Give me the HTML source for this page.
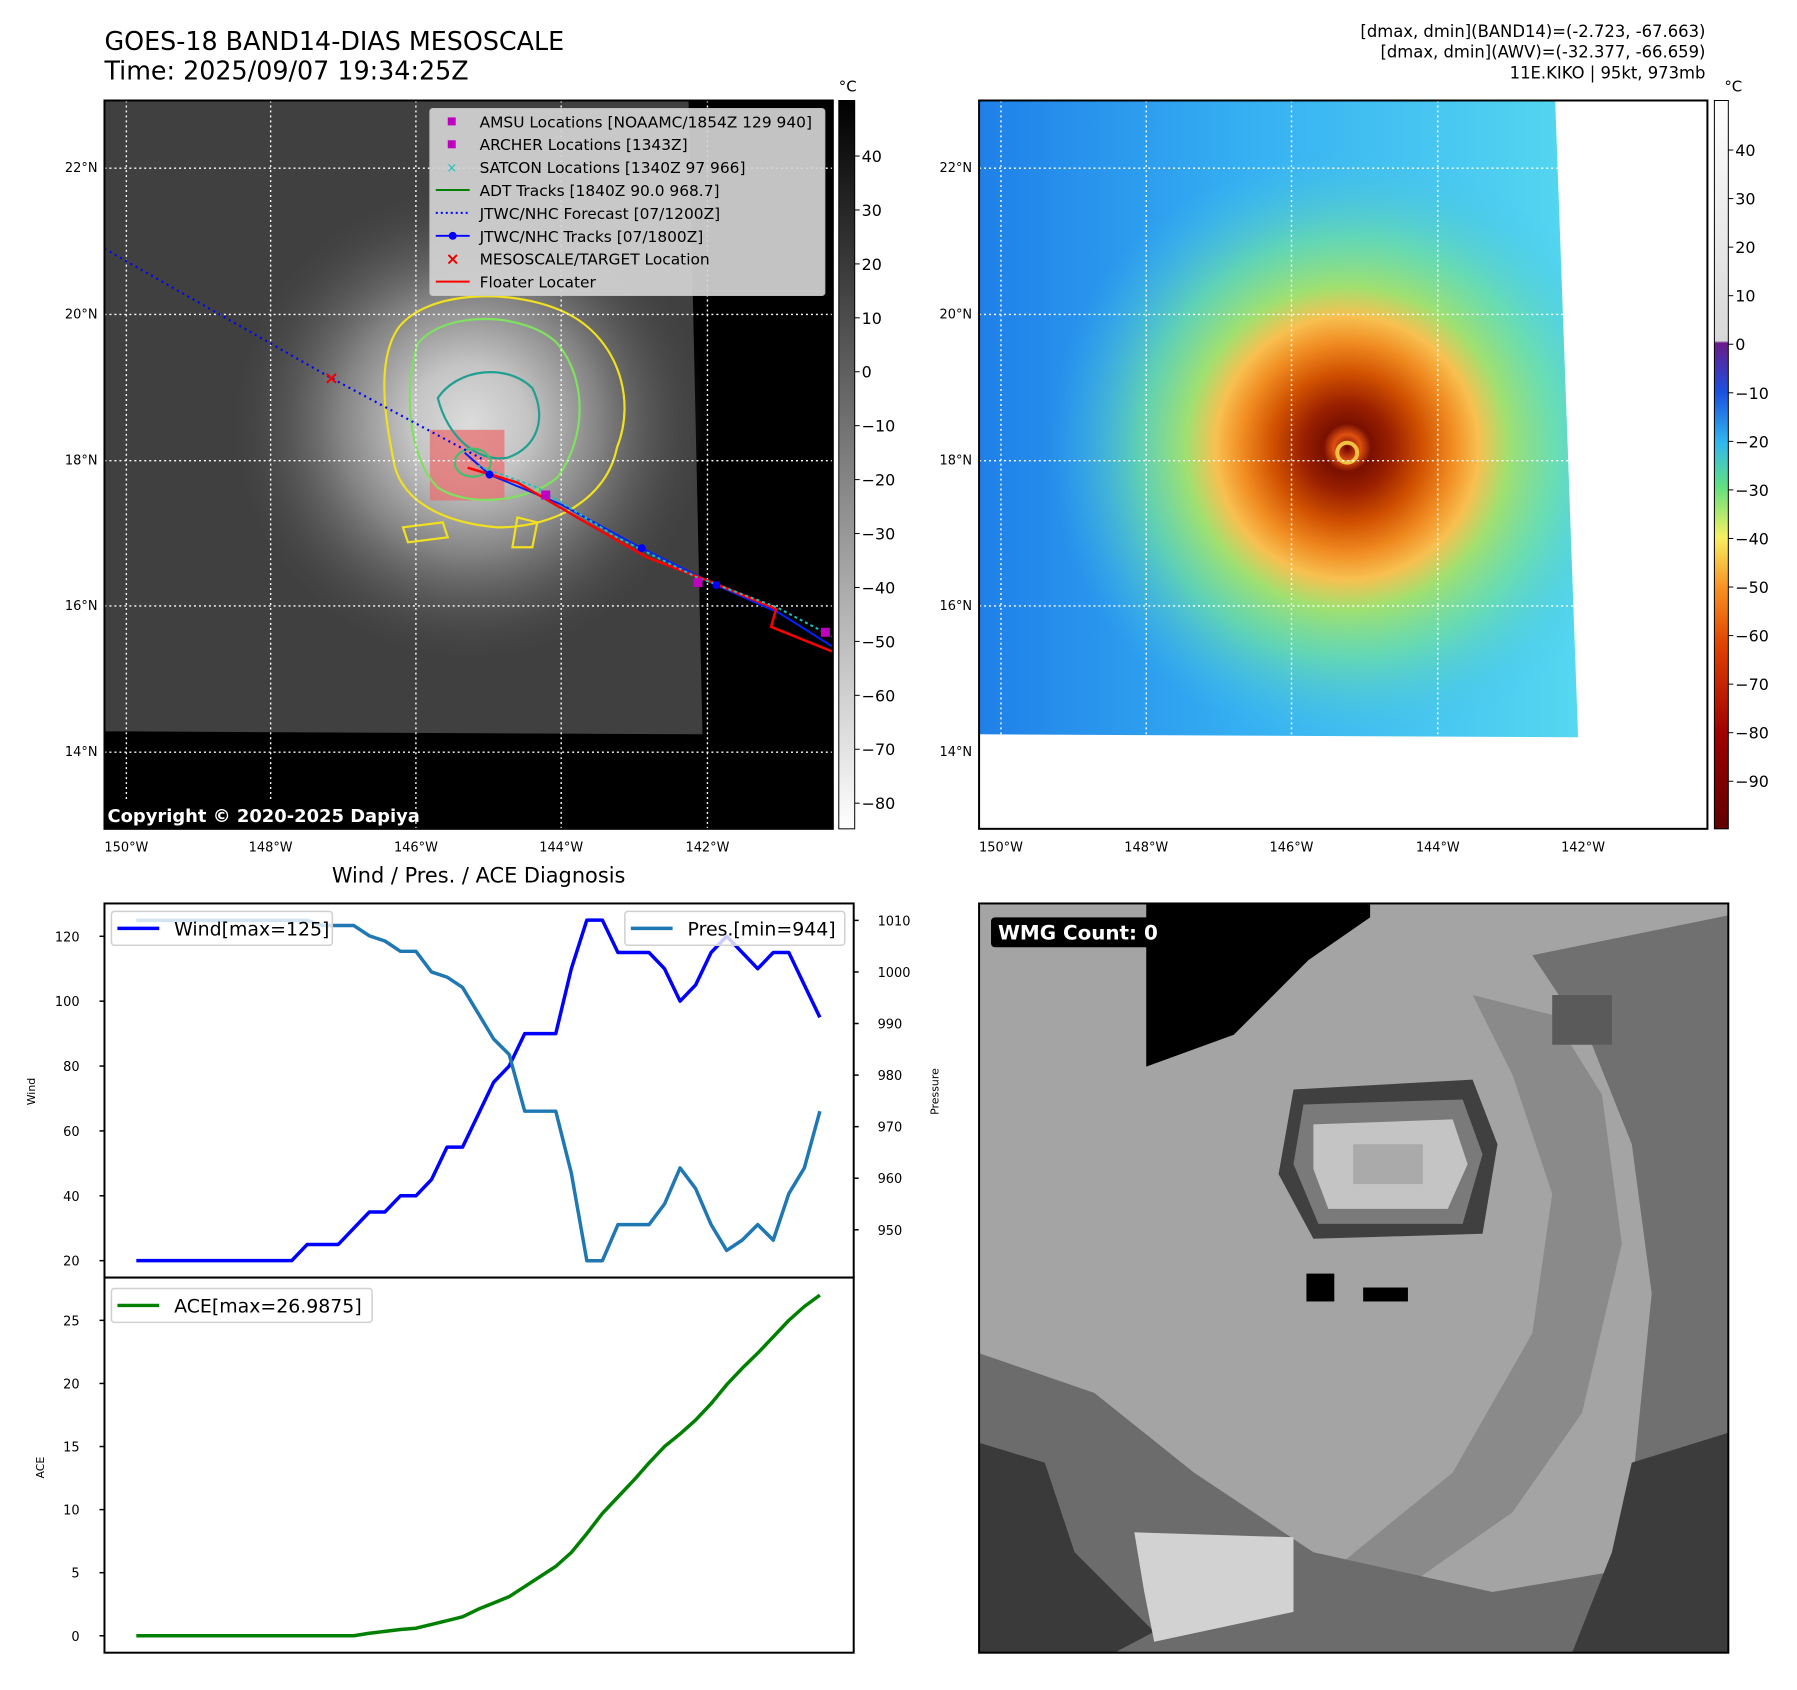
<!DOCTYPE html>
<html><head><meta charset="utf-8"><style>
html,body{margin:0;padding:0;background:#fff;}
svg{display:block;font-family:"DejaVu Sans","Liberation Sans",sans-serif;}
</style></head><body>
<svg id="fig" width="1797" height="1690" viewBox="0 0 1797 1690" xmlns="http://www.w3.org/2000/svg">
<defs>
<radialGradient id="cloud" cx="472" cy="426" r="240" gradientUnits="userSpaceOnUse">
<stop offset="0" stop-color="#dcdcdc"/><stop offset="0.25" stop-color="#c4c4c4"/><stop offset="0.55" stop-color="#828282"/><stop offset="1" stop-color="#4a4a4a" stop-opacity="0"/>
</radialGradient>
<linearGradient id="bgR" x1="0" x2="1" y1="0" y2="0"><stop offset="0" stop-color="#1f80e8"/><stop offset="0.45" stop-color="#36b0f2"/><stop offset="1" stop-color="#55d8f0"/></linearGradient>
<radialGradient id="storm" cx="1354" cy="450" r="300" gradientUnits="userSpaceOnUse">
<stop offset="0" stop-color="#6a0000"/><stop offset="0.045" stop-color="#e05010"/><stop offset="0.08" stop-color="#7a1000"/><stop offset="0.15" stop-color="#9a2000"/><stop offset="0.25" stop-color="#d05000"/><stop offset="0.35" stop-color="#f08a20"/><stop offset="0.44" stop-color="#f8c050"/><stop offset="0.54" stop-color="#a0e070"/><stop offset="0.7" stop-color="#70e0a0" stop-opacity="0.75"/><stop offset="1" stop-color="#40c0f0" stop-opacity="0"/>
</radialGradient>
<linearGradient id="cbL" x1="0" x2="0" y1="0" y2="1"><stop offset="0" stop-color="#000"/><stop offset="1" stop-color="#fff"/></linearGradient>
<linearGradient id="cbR" x1="0" x2="0" y1="0" y2="1">
<stop offset="0" stop-color="#fff"/><stop offset="0.33" stop-color="#d8d8d8"/><stop offset="0.333" stop-color="#6a1a8a"/><stop offset="0.4" stop-color="#1a50e0"/><stop offset="0.47" stop-color="#30b8f0"/><stop offset="0.53" stop-color="#60e080"/><stop offset="0.6" stop-color="#f8f060"/><stop offset="0.67" stop-color="#f89020"/><stop offset="0.75" stop-color="#e04000"/><stop offset="0.87" stop-color="#a00000"/><stop offset="1" stop-color="#600000"/>
</linearGradient>
<clipPath id="clipL"><rect x="105" y="101" width="732" height="732"/></clipPath>
<clipPath id="clipR"><rect x="984" y="101" width="732" height="732"/></clipPath>
<clipPath id="clipR2"><polygon points="984,101 1563,101 1586,741 984,738"/></clipPath>
<clipPath id="clipW"><rect x="984" y="908" width="753" height="753"/></clipPath>
</defs>
<g transform="scale(0.995)">
<text x="105" y="50" font-size="25.5" fill="#000">GOES-18 BAND14-DIAS MESOSCALE</text>
<text x="105" y="80" font-size="25.5" fill="#000">Time: 2025/09/07 19:34:25Z</text>
<g font-size="16.5" text-anchor="end">
<text x="1714" y="37">[dmax, dmin](BAND14)=(-2.723, -67.663)</text>
<text x="1714" y="58">[dmax, dmin](AWV)=(-32.377, -66.659)</text>
<text x="1714" y="79">11E.KIKO | 95kt, 973mb</text>
</g>

<!-- LEFT MAP -->
<g clip-path="url(#clipL)">
<rect x="105" y="101" width="732" height="732" fill="#000"/>
<polygon points="105,101 692,101 706,738 105,735" fill="#404040"/>
<ellipse cx="472" cy="426" rx="240" ry="240" fill="url(#cloud)"/>
<rect x="432" y="432" width="75" height="71" fill="#e87070" opacity="0.75"/>
<g fill="none" stroke-width="2.2">
<path d="M400,330 C430,290 520,290 570,315 C620,340 640,400 620,450 C610,500 560,530 500,530 C440,525 400,500 395,460 C385,410 380,360 400,330 Z" stroke="#f0e020"/>
<path d="M420,345 C450,310 530,315 560,345 C590,380 590,440 560,480 C530,505 470,510 440,490 C410,460 405,390 420,345 Z" stroke="#80e060"/>
<path d="M440,400 C460,370 510,365 535,390 C550,420 540,450 510,460 C480,465 450,440 440,400 Z" stroke="#20a090"/>
<path d="M405,530 l40,-5 l5,15 l-40,5 Z M520,520 l20,5 l-5,25 l-20,0 Z" stroke="#f0e020"/>
<ellipse cx="475" cy="465" rx="18" ry="14" stroke="#40c070"/>
</g>
<g fill="none" stroke="#fff" stroke-width="1.4" stroke-dasharray="2,3">
<line x1="127" y1="101" x2="127" y2="833"/><line x1="272" y1="101" x2="272" y2="833"/><line x1="418" y1="101" x2="418" y2="833"/><line x1="564" y1="101" x2="564" y2="833"/><line x1="711" y1="101" x2="711" y2="833"/>
<line x1="105" y1="169" x2="837" y2="169"/><line x1="105" y1="316" x2="837" y2="316"/><line x1="105" y1="463" x2="837" y2="463"/><line x1="105" y1="609" x2="837" y2="609"/><line x1="105" y1="756" x2="837" y2="756"/>
</g>
<polyline points="105,250 333,380 484,461" fill="none" stroke="#0000ff" stroke-width="2.2" stroke-dasharray="2,4"/>
<text x="333" y="386" font-size="18" fill="#e00" text-anchor="middle" font-weight="bold">×</text>
<polyline points="467,455 492,477 564,507 645,551 720,588 783,616 837,650" fill="none" stroke="#0020ff" stroke-width="2"/>
<polyline points="470,470 520,485 580,520 650,560 715,585 780,612 775,630 837,655" fill="none" stroke="#ff0000" stroke-width="2.5"/>
<polyline points="480,468 540,490 620,540 700,580 780,610 837,640" fill="none" stroke="#20c0c0" stroke-width="2" stroke-dasharray="3,3"/>
<g fill="#0000ff"><circle cx="492" cy="477" r="4"/><circle cx="645" cy="551" r="4"/><circle cx="720" cy="588" r="4"/></g>
<g fill="#c000c0"><rect x="544" y="493" width="9" height="9"/><rect x="697" y="581" width="9" height="9"/><rect x="825" y="631" width="9" height="9"/></g>
<rect x="105" y="806" width="312" height="27" fill="#000"/>
<text x="108" y="826" font-size="18" font-weight="bold" fill="#fff">Copyright © 2020-2025 Dapiya</text>
</g>
<rect x="105" y="101" width="732" height="732" fill="none" stroke="#000" stroke-width="2"/>
<g>
<rect x="432" y="109" width="397" height="188" rx="3" fill="#d4d4d4" opacity="0.92" stroke="#ccc"/>
<g font-size="15.5" fill="#000">
<rect x="450" y="118" width="8" height="8" fill="#c000c0"/><text x="482" y="128">AMSU Locations [NOAAMC/1854Z 129 940]</text>
<rect x="450" y="141" width="8" height="8" fill="#c000c0"/><text x="482" y="151">ARCHER Locations [1343Z]</text>
<text x="454" y="173" fill="#20c0c0" text-anchor="middle" font-size="13">×</text><text x="482" y="174">SATCON Locations [1340Z 97 966]</text>
<line x1="438" y1="191" x2="472" y2="191" stroke="#008000" stroke-width="2"/><text x="482" y="197">ADT Tracks [1840Z 90.0 968.7]</text>
<line x1="438" y1="214" x2="472" y2="214" stroke="#0000ff" stroke-width="2" stroke-dasharray="2,3"/><text x="482" y="220">JTWC/NHC Forecast [07/1200Z]</text>
<line x1="438" y1="237" x2="472" y2="237" stroke="#0000ff" stroke-width="2"/><circle cx="455" cy="237" r="4" fill="#0000ff"/><text x="482" y="243">JTWC/NHC Tracks [07/1800Z]</text>
<text x="455" y="266" fill="#e00" text-anchor="middle" font-weight="bold" font-size="17">×</text><text x="482" y="266">MESOSCALE/TARGET Location</text>
<line x1="438" y1="283" x2="472" y2="283" stroke="#ff0000" stroke-width="2"/><text x="482" y="289">Floater Locater</text>
</g></g>
<g font-size="13" fill="#000">
<g text-anchor="end"><text x="98" y="173">22°N</text><text x="98" y="320">20°N</text><text x="98" y="467">18°N</text><text x="98" y="613">16°N</text><text x="98" y="760">14°N</text></g>
<g text-anchor="middle"><text x="127" y="856">150°W</text><text x="272" y="856">148°W</text><text x="418" y="856">146°W</text><text x="564" y="856">144°W</text><text x="711" y="856">142°W</text></g>
</g>
<g>
<rect x="843" y="101" width="16" height="732" fill="url(#cbL)" stroke="#000" stroke-width="1"/>
<text x="852" y="92" font-size="15" text-anchor="middle">°C</text>
<g font-size="16" id="cbLticks"></g>
</g>

<!-- RIGHT MAP -->
<g clip-path="url(#clipR)">
<rect x="984" y="101" width="732" height="732" fill="#fff"/>
<polygon points="984,101 1563,101 1586,741 984,738" fill="url(#bgR)"/>
<g clip-path="url(#clipR2)"><ellipse cx="1354" cy="450" rx="300" ry="300" fill="url(#storm)"/>
<circle cx="1354" cy="455" r="10" fill="none" stroke="#f0c040" stroke-width="4"/></g>
<g fill="none" stroke="#fff" stroke-width="1.4" stroke-dasharray="2,3">
<line x1="1006" y1="101" x2="1006" y2="833"/><line x1="1152" y1="101" x2="1152" y2="833"/><line x1="1298" y1="101" x2="1298" y2="833"/><line x1="1445" y1="101" x2="1445" y2="833"/><line x1="1591" y1="101" x2="1591" y2="833"/>
<line x1="984" y1="169" x2="1716" y2="169"/><line x1="984" y1="316" x2="1716" y2="316"/><line x1="984" y1="463" x2="1716" y2="463"/><line x1="984" y1="609" x2="1716" y2="609"/><line x1="984" y1="756" x2="1716" y2="756"/>
</g></g>
<rect x="984" y="101" width="732" height="732" fill="none" stroke="#000" stroke-width="2"/>
<g font-size="13" fill="#000">
<g text-anchor="end"><text x="977" y="173">22°N</text><text x="977" y="320">20°N</text><text x="977" y="467">18°N</text><text x="977" y="613">16°N</text><text x="977" y="760">14°N</text></g>
<g text-anchor="middle"><text x="1006" y="856">150°W</text><text x="1152" y="856">148°W</text><text x="1298" y="856">146°W</text><text x="1445" y="856">144°W</text><text x="1591" y="856">142°W</text></g>
</g>
<g>
<rect x="1723" y="101" width="14" height="732" fill="url(#cbR)" stroke="#000" stroke-width="1"/>
<text x="1742" y="92" font-size="15" text-anchor="middle">°C</text>
<g font-size="16" id="cbRticks"></g>
</g>

<!-- DIAGNOSIS CHART -->
<text x="481" y="887" font-size="21" text-anchor="middle">Wind / Pres. / ACE Diagnosis</text>
<g id="windAx"></g>
<g id="aceAx"></g>

<!-- WMG panel -->
<g>
<g clip-path="url(#clipW)">
<rect x="984" y="908" width="753" height="753" fill="#a4a4a4"/>
<polygon points="1540,960 1737,920 1737,1661 1600,1661 1640,1500 1660,1300 1640,1150 1600,1050" fill="#707070"/>
<polygon points="1480,1000 1560,1020 1610,1100 1630,1250 1590,1420 1520,1520 1420,1590 1300,1610 1460,1480 1540,1340 1560,1200 1520,1080" fill="#8a8a8a"/>
<polygon points="984,1360 1100,1400 1200,1480 1320,1560 1500,1600 1737,1560 1737,1661 984,1661" fill="#6c6c6c"/>
<polygon points="984,1450 1050,1470 1080,1560 1160,1640 1120,1661 984,1661" fill="#3a3a3a"/>
<polygon points="1640,1470 1737,1440 1737,1661 1580,1661 1620,1560" fill="#3c3c3c"/>
<polygon points="1152,908 1377,908 1377,922 1315,965 1240,1040 1152,1072" fill="#000"/>
<polygon points="1300,1095 1480,1085 1505,1150 1490,1240 1320,1245 1285,1180" fill="#404040"/>
<polygon points="1310,1110 1470,1105 1490,1160 1470,1230 1325,1230 1300,1170" fill="#7a7a7a"/>
<polygon points="1320,1130 1460,1125 1475,1170 1455,1215 1335,1215 1320,1175" fill="#c4c4c4"/>
<rect x="1360" y="1150" width="70" height="40" fill="#aaaaaa"/>
<rect x="1313" y="1280" width="28" height="28" fill="#000"/><rect x="1370" y="1294" width="45" height="14" fill="#000"/>
<polygon points="1140,1540 1300,1545 1300,1620 1160,1650 1150,1600" fill="#d2d2d2"/>
<rect x="1560" y="1000" width="60" height="50" fill="#5a5a5a"/>
</g>
<rect x="984" y="908" width="753" height="753" fill="none" stroke="#000" stroke-width="2"/>
<rect x="996" y="922" width="179" height="30" rx="4" fill="#000"/>
<text x="1003" y="944" font-size="20" font-weight="bold" fill="#fff">WMG Count: 0</text>
</g>
</g>
</svg>
<script>
// chart data
const timeIndex = Array.from({length:45},(_,i)=>i);
const windValues = [20,20,20,20,20,20,20,20,20,20,20,25,25,25,30,35,35,40,40,45,55,55,65,75,80,90,90,90,110,125,125,115,115,115,110,100,105,115,120,115,110,115,115,105,95];
const pressureValues = [1010,1010,1010,1010,1010,1010,1010,1010,1010,1010,1010,1010,1009,1009,1009,1007,1006,1004,1004,1000,999,997,992,987,984,973,973,973,961,944,944,951,951,951,955,962,958,951,946,948,951,948,957,962,973];
const aceValues = [0,0,0,0,0,0,0,0,0,0,0,0,0,0,0,0.2,0.35,0.5,0.6,0.9,1.2,1.5,2.1,2.6,3.1,3.9,4.7,5.5,6.6,8.1,9.7,11,12.3,13.7,15,16,17.1,18.4,19.9,21.2,22.4,23.7,25,26.1,27];
const windTicks = [20,40,60,80,100,120];
const pressureTicks = [950,960,970,980,990,1000,1010];
const aceTicks = [0,5,10,15,20,25];
const irCbTicks = [40,30,20,10,0,-10,-20,-30,-40,-50,-60,-70,-80];
const wvCbTicks = [40,30,20,10,0,-10,-20,-30,-40,-50,-60,-70,-80,-90];

const NS='http://www.w3.org/2000/svg';
function mk(tag,attrs,parent){const e=document.createElementNS(NS,tag);for(const k in attrs)e.setAttribute(k,attrs[k]);parent.appendChild(e);return e;}
const xS=i=>137+i*(824-137)/44;
const yW=v=>1267-(v-20)*3.26;
const yP=p=>925+(1010-p)*5.183;
const yA=a=>1644-a*12.68;

const wAx=document.getElementById('windAx');
const aAx=document.getElementById('aceAx');
let r=mk('rect',{x:105,y:908,width:753,height:376,fill:'#fff',stroke:'#000','stroke-width':2},wAx);


r=mk('rect',{x:105,y:1284,width:753,height:377,fill:'#fff',stroke:'#000','stroke-width':2},aAx);



windTicks.forEach(v=>{const y=yW(v);mk('line',{x1:100,y1:y,x2:105,y2:y,stroke:'#000','stroke-width':1.5},wAx);
 const t=mk('text',{x:80,y:y+5,'font-size':13,'text-anchor':'end'},wAx);t.textContent=v;
 
 });
pressureTicks.forEach(v=>{const y=yP(v);mk('line',{x1:858,y1:y,x2:863,y2:y,stroke:'#000','stroke-width':1.5},wAx);
 const t=mk('text',{x:882,y:y+5,'font-size':13},wAx);t.textContent=v;
 
 });
aceTicks.forEach(v=>{const y=yA(v);mk('line',{x1:100,y1:y,x2:105,y2:y,stroke:'#000','stroke-width':1.5},aAx);
 const t=mk('text',{x:80,y:y+5,'font-size':13,'text-anchor':'end'},aAx);t.textContent=v;
 
 });
let t=mk('text',{x:35,y:1097,'font-size':11,'text-anchor':'middle',transform:'rotate(-90 35 1097)'},wAx);t.textContent='Wind';


t=mk('text',{x:943,y:1097,'font-size':11,'text-anchor':'middle',transform:'rotate(-90 943 1097)'},wAx);t.textContent='Pressure';


t=mk('text',{x:44,y:1475,'font-size':11,'text-anchor':'middle',transform:'rotate(-90 44 1475)'},aAx);t.textContent='ACE';



let l=mk('polyline',{points:timeIndex.map(i=>xS(i)+','+yW(windValues[i])).join(' '),fill:'none',stroke:'#0000ff','stroke-width':3.5,'stroke-linejoin':'round'},wAx);


l=mk('polyline',{points:timeIndex.map(i=>xS(i)+','+yP(pressureValues[i])).join(' '),fill:'none',stroke:'#1f77b4','stroke-width':3.5,'stroke-linejoin':'round'},wAx);


l=mk('polyline',{points:timeIndex.map(i=>xS(i)+','+yA(aceValues[i])).join(' '),fill:'none',stroke:'#008000','stroke-width':3.5,'stroke-linejoin':'round'},aAx);



function legend(parent,x,y,w,color,label,name){
 const g=mk('g',{},parent);
 
 
 mk('rect',{x:x,y:y,width:w,height:34,rx:3,fill:'#fff','fill-opacity':0.8,stroke:'#d0d0d0','stroke-width':1.5},g);
 mk('line',{x1:x+6,y1:y+17,x2:x+48,y2:y+17,stroke:color,'stroke-width':3.5},g);
 const tt=mk('text',{x:x+63,y:y+24,'font-size':19},g);tt.textContent=label;}
legend(wAx,112,916,222,'#0000ff','Wind[max=125]','wind-legend');
legend(wAx,628,916,221,'#1f77b4','Pres.[min=944]','pressure-legend');
legend(aAx,112,1295,262,'#008000','ACE[max=26.9875]','ace-legend');

const cbL=document.getElementById('cbLticks');
irCbTicks.forEach(v=>{const y=101+(50.3-v)*5.42;mk('line',{x1:859,y1:y,x2:864,y2:y,stroke:'#000'},cbL);
 const tx=mk('text',{x:866,y:y+6},cbL);tx.textContent=(v<0?'\u2212'+(-v):v);
 
 });
const cbR=document.getElementById('cbRticks');
wvCbTicks.forEach(v=>{const y=101+(50.2-v)*4.88;mk('line',{x1:1737,y1:y,x2:1742,y2:y,stroke:'#000'},cbR);
 const tx=mk('text',{x:1744,y:y+6},cbR);tx.textContent=(v<0?'\u2212'+(-v):v);
 
 });
</script>
</body></html>
